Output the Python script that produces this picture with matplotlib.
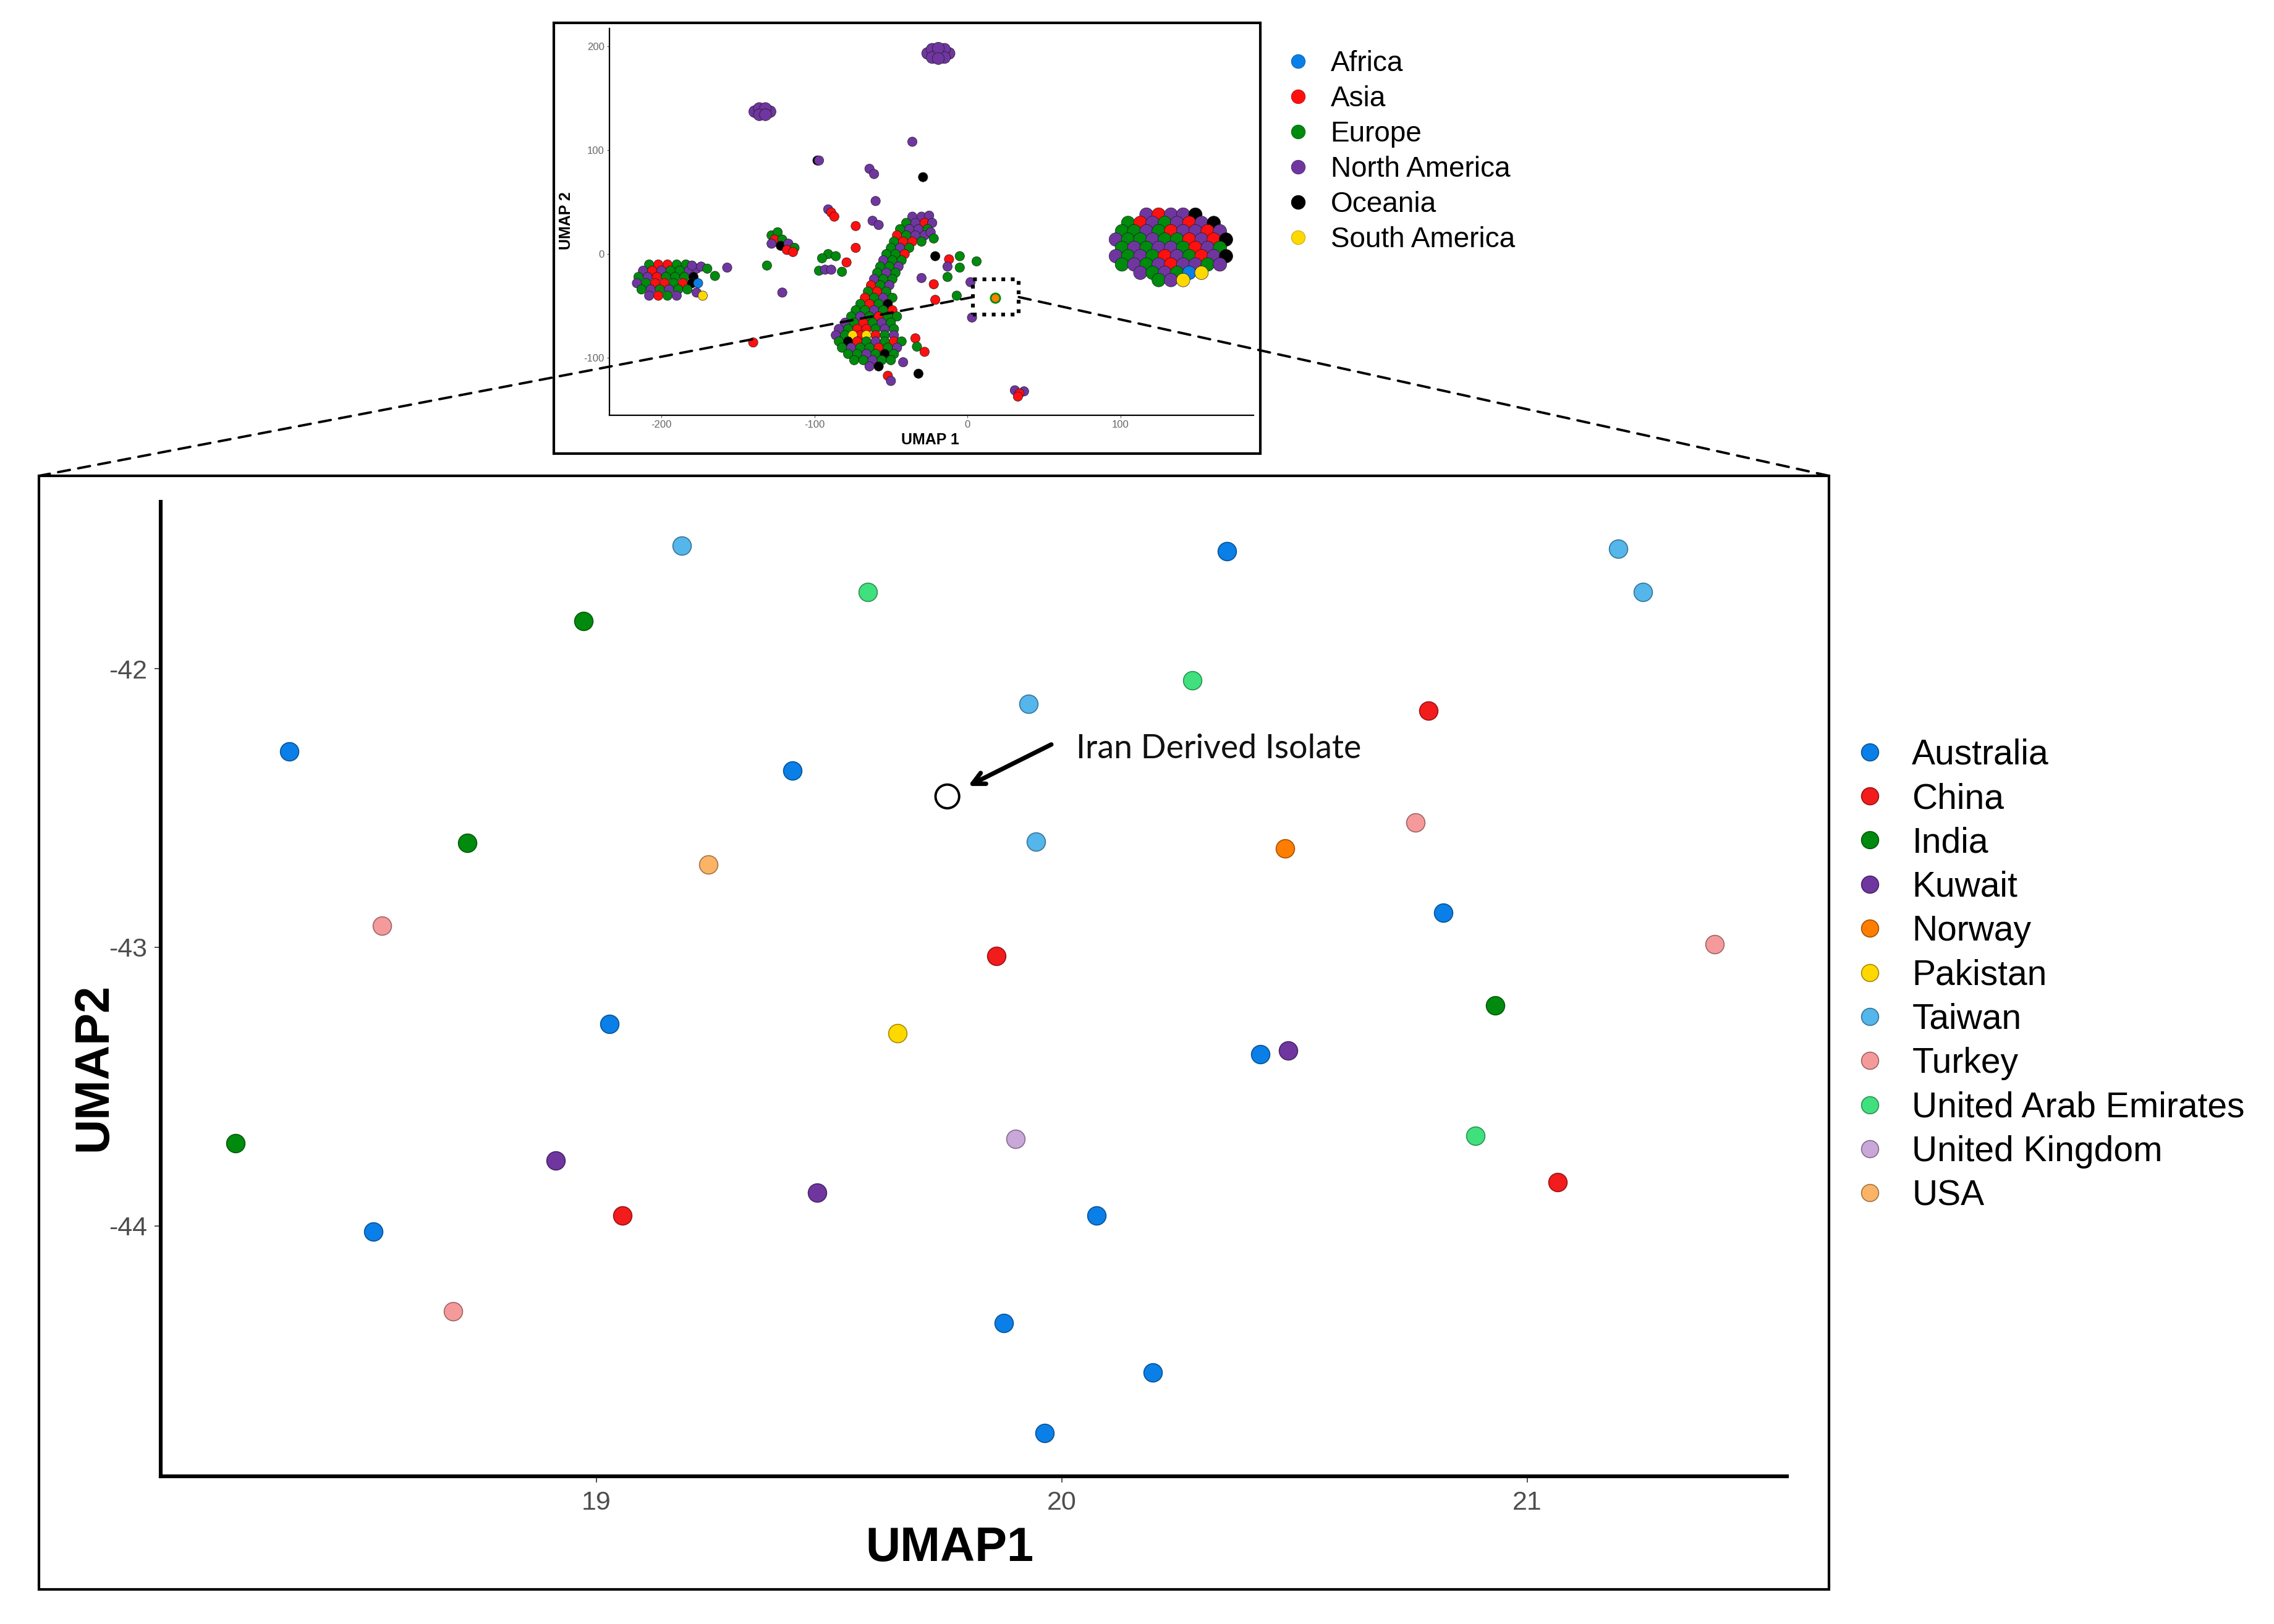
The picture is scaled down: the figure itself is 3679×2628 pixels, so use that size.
import matplotlib
matplotlib.use("Agg")
import matplotlib.pyplot as plt
import matplotlib.colors as mcolors
from matplotlib import font_manager
from matplotlib.lines import Line2D
from matplotlib.patches import Rectangle, ConnectionPatch


def has_font(name):
    try:
        font_manager.findfont(font_manager.FontProperties(family=name), fallback_to_default=False)
        return True
    except ValueError:
        return False


SANS = "Liberation Sans" if has_font("Liberation Sans") else "DejaVu Sans"
NARROW = "Liberation Sans Narrow" if has_font("Liberation Sans Narrow") else SANS
NOTE = "Lato" if has_font("Lato") else "DejaVu Sans"

plt.rcParams["font.family"] = [SANS, "DejaVu Sans"]
plt.rcParams["axes.unicode_minus"] = False

# ---- zoomed panel: isolates by country ----
countries = ["Australia", "China", "India", "Kuwait", "Norway", "Pakistan", "Taiwan",
             "Turkey", "United Arab Emirates", "United Kingdom", "USA"]
country_colors = ["#0a7fe8", "#f21c1c", "#008a0e", "#7036a0", "#ff7d00", "#ffd800",
                  "#54b6ea", "#f59a9b", "#40e07e", "#c9a7d9", "#fbb466"]

point_country = (["Australia"] * 11 + ["China"] * 4 + ["India"] * 4 + ["Kuwait"] * 3
                 + ["Norway", "Pakistan"] + ["Taiwan"] * 5 + ["Turkey"] * 4
                 + ["United Arab Emirates"] * 3 + ["United Kingdom", "USA"])
point_umap1 = [18.340, 19.421, 20.355, 20.819, 19.028, 20.427, 20.075, 18.520, 19.875, 20.196, 19.963,
               20.788, 19.860, 19.056, 21.065,
               18.972, 18.723, 20.931, 18.224,
               20.486, 18.913, 19.474,
               20.480, 19.647,
               19.184, 21.196, 21.249, 19.928, 19.944,
               20.760, 18.539, 21.402, 18.692,
               19.583, 20.280, 20.888,
               19.900, 19.240]
point_umap2 = [-42.297, -42.365, -41.578, -42.875, -43.276, -43.385, -43.964, -44.021, -44.349, -44.526, -44.745,
               -42.151, -43.031, -43.964, -43.844,
               -41.828, -42.625, -43.208, -43.703,
               -43.370, -43.766, -43.880,
               -42.646, -43.308,
               -41.557, -41.568, -41.724, -42.125, -42.620,
               -42.552, -42.922, -42.990, -44.307,
               -41.724, -42.042, -43.677,
               -43.688, -42.703]
iran_umap1, iran_umap2 = 19.754, -42.458

# ---- overview panel: isolates by continent ----
regions = ["Africa", "Asia", "Europe", "North America", "Oceania", "South America"]
region_codes = ["AF", "AS", "EU", "NA", "OC", "SA"]
region_colors = ["#0a7fe8", "#ff1010", "#008a0e", "#7036a0", "#000000", "#ffd800"]

big_disc = [
    (117, 38, "NA"), (125, 38, "AS"), (133, 38, "NA"), (141, 38, "NA"), (149, 38, "OC"),
    (105, 30, "EU"), (113, 30, "AS"), (121, 30, "NA"), (129, 30, "EU"), (137, 30, "NA"), (145, 30, "AS"),
    (153, 30, "NA"), (161, 30, "OC"),
    (101, 22, "EU"), (109, 22, "EU"), (117, 22, "NA"), (125, 22, "EU"), (133, 22, "AS"), (141, 22, "NA"),
    (149, 22, "NA"), (157, 22, "AS"), (165, 22, "NA"),
    (97, 14, "NA"), (105, 14, "EU"), (113, 14, "EU"), (121, 14, "NA"), (129, 14, "EU"), (137, 14, "EU"),
    (145, 14, "AS"), (153, 14, "NA"), (161, 14, "AS"), (169, 14, "OC"),
    (101, 6, "EU"), (109, 6, "NA"), (117, 6, "EU"), (125, 6, "NA"), (133, 6, "NA"), (141, 6, "EU"),
    (149, 6, "AS"), (157, 6, "NA"), (165, 6, "EU"),
    (97, -2, "NA"), (105, -2, "EU"), (113, -2, "NA"), (121, -2, "EU"), (129, -2, "AS"), (137, -2, "NA"),
    (145, -2, "EU"), (153, -2, "AS"), (161, -2, "NA"), (169, -2, "OC"),
    (101, -10, "EU"), (109, -10, "NA"), (117, -10, "EU"), (125, -10, "NA"), (133, -10, "AS"), (141, -10, "NA"),
    (149, -10, "NA"), (157, -10, "EU"), (165, -10, "NA"),
    (113, -18, "NA"), (121, -18, "EU"), (129, -18, "NA"), (137, -18, "EU"), (145, -18, "AF"), (153, -18, "SA"),
    (125, -25, "EU"), (133, -25, "NA"), (141, -25, "SA"),
]

main_band = [
    (-36, 36, "NA"), (-30, 36, "NA"), (-25, 37, "NA"),
    (-40, 30, "EU"), (-34, 30, "NA"), (-28, 30, "AS"), (-23, 30, "NA"),
    (-44, 24, "EU"), (-38, 24, "NA"), (-32, 24, "NA"), (-26, 24, "EU"),
    (-46, 18, "AS"), (-40, 18, "EU"), (-34, 18, "NA"), (-28, 18, "NA"),
    (-48, 12, "EU"), (-42, 12, "AS"), (-36, 12, "AS"), (-30, 12, "EU"),
    (-50, 6, "EU"), (-44, 6, "NA"), (-38, 6, "EU"),
    (-53, 0, "EU"), (-47, 0, "EU"), (-41, 0, "AS"),
    (-55, -6, "NA"), (-49, -6, "EU"), (-43, -6, "EU"),
    (-57, -12, "EU"), (-51, -12, "EU"), (-45, -12, "NA"),
    (-59, -18, "EU"), (-53, -18, "NA"), (-47, -18, "EU"),
    (-61, -24, "NA"), (-55, -24, "EU"), (-49, -24, "EU"),
    (-63, -30, "AS"), (-57, -30, "EU"), (-51, -30, "NA"),
    (-65, -36, "EU"), (-59, -36, "AS"), (-53, -36, "EU"),
    (-67, -42, "AS"), (-61, -42, "EU"), (-55, -42, "NA"), (-49, -42, "EU"),
    (-70, -48, "EU"), (-64, -48, "AS"), (-58, -48, "EU"), (-52, -48, "OC"),
    (-73, -54, "EU"), (-67, -54, "EU"), (-61, -54, "NA"), (-55, -54, "EU"), (-49, -54, "AS"),
    (-76, -60, "EU"), (-70, -60, "NA"), (-64, -60, "EU"), (-58, -60, "AS"), (-52, -60, "EU"), (-46, -60, "EU"),
    (-80, -66, "NA"), (-74, -66, "EU"), (-68, -66, "AS"), (-62, -66, "EU"), (-56, -66, "NA"), (-50, -66, "EU"),
    (-84, -72, "NA"), (-78, -72, "EU"), (-72, -72, "AS"), (-66, -72, "AS"), (-60, -72, "EU"), (-54, -72, "NA"),
    (-48, -72, "EU"),
    (-86, -78, "NA"), (-80, -78, "EU"), (-70, -78, "AS"), (-60, -78, "AS"), (-54, -78, "EU"), (-48, -78, "NA"),
    (-75, -78, "SA"), (-66, -78, "SA"),
    (-84, -84, "EU"), (-78, -84, "OC"), (-72, -84, "AS"), (-66, -84, "EU"), (-60, -84, "NA"), (-54, -84, "EU"),
    (-48, -84, "AS"), (-43, -84, "EU"),
    (-82, -90, "EU"), (-76, -90, "NA"), (-70, -90, "EU"), (-64, -90, "EU"), (-58, -90, "AS"), (-52, -90, "EU"),
    (-46, -90, "NA"),
    (-78, -96, "EU"), (-72, -96, "EU"), (-66, -96, "NA"), (-60, -96, "EU"), (-54, -96, "OC"), (-48, -96, "EU"),
    (-74, -102, "EU"), (-68, -102, "EU"), (-62, -102, "NA"), (-56, -102, "EU"), (-50, -102, "EU"),
    (-64, -108, "NA"), (-58, -108, "OC"),
]

left_cluster = [
    (-208, -10, "EU"), (-202, -10, "AS"), (-196, -10, "AS"), (-190, -10, "EU"), (-184, -10, "EU"),
    (-212, -16, "NA"), (-206, -16, "AS"), (-200, -16, "NA"), (-194, -16, "EU"), (-188, -16, "EU"),
    (-182, -16, "NA"), (-177, -14, "NA"),
    (-215, -22, "EU"), (-209, -22, "NA"), (-203, -22, "AS"), (-197, -22, "EU"), (-191, -22, "EU"),
    (-185, -22, "EU"), (-179, -22, "OC"),
    (-216, -28, "NA"), (-210, -28, "EU"), (-204, -28, "AS"), (-198, -28, "AS"), (-192, -28, "EU"),
    (-186, -28, "AS"), (-180, -28, "OC"), (-176, -28, "AF"),
    (-213, -34, "EU"), (-207, -34, "NA"), (-201, -34, "EU"), (-195, -34, "NA"), (-189, -34, "EU"),
    (-183, -34, "EU"),
    (-208, -40, "NA"), (-202, -40, "AS"), (-196, -40, "EU"), (-190, -40, "NA"),
    (-180, -11, "NA"), (-174, -12, "NA"), (-177, -37, "NA"), (-173, -40, "SA"),
]

mid_cluster = [
    (-128, 18, "EU"), (-124, 21, "EU"), (-126, 14, "AS"), (-121, 14, "EU"), (-128, 10, "NA"),
    (-122, 8, "OC"), (-117, 10, "NA"), (-113, 6, "EU"), (-118, 4, "AS"), (-114, 2, "AS"),
]

purple_blobs = [
    (-19, 193, "NA"), (-26, 193, "NA"), (-12, 193, "NA"), (-23, 197, "NA"), (-15, 197, "NA"),
    (-23, 189, "NA"), (-15, 189, "NA"), (-19, 198, "NA"), (-19, 188, "NA"),
    (-134, 137, "NA"), (-139, 137, "NA"), (-129, 137, "NA"), (-136, 140, "NA"), (-132, 140, "NA"),
    (-136, 134, "NA"), (-132, 134, "NA"),
]

scattered = [
    (-170, -14, "EU"), (-165, -21, "EU"), (-157, -13, "NA"), (-131, -11, "EU"), (-121, -37, "NA"),
    (-140, -85, "AS"), (-91, 43, "NA"), (-89, 40, "AS"), (-87, 36, "AS"), (-73, 27, "AS"),
    (-62, 32, "NA"), (-58, 28, "NA"), (-60, 51, "NA"), (-98, 90, "OC"), (-97, 90, "NA"),
    (-64, 82, "NA"), (-61, 77, "NA"), (-36, 108, "NA"), (-29, 74, "OC"),
    (-73, 6, "AS"), (-91, 0, "EU"), (-86, -2, "EU"), (-95, -4, "EU"), (-79, -8, "AS"),
    (-97, -16, "EU"), (-93, -15, "NA"), (-89, -15, "NA"), (-82, -17, "EU"),
    (-24, 21, "NA"), (-22, 15, "EU"), (-21, -2, "OC"), (-12, -5, "AS"), (-5, -2, "EU"), (6, -7, "EU"),
    (-13, -12, "NA"), (-5, -13, "EU"), (-13, -22, "EU"), (-30, -23, "NA"), (-22, -29, "AS"),
    (2, -27, "NA"), (-21, -44, "AS"), (-7, -40, "EU"), (3, -61, "NA"),
    (-34, -81, "AS"), (-33, -89, "EU"), (-28, -94, "AS"), (-42, -104, "NA"), (-32, -115, "OC"),
    (-52, -117, "AS"), (-50, -122, "NA"),
    (31, -131, "NA"), (37, -132, "NA"), (34, -134, "AS"), (33, -137, "AS"),
]
focus_point = (18, -42)
zoom_box = (3.6, -58.3, 33.6, -24.4)  # x0, y0, x1, y1 of the dotted window


def darker(color, f=0.65):
    r, g, b = mcolors.to_rgb(color)
    return (r * f, g * f, b * f)


fig = plt.figure(figsize=(18.4, 13.14), dpi=200)

# ---------------- main zoomed scatter ----------------
ax = fig.add_axes([0.0707, 0.0909, 0.7149, 0.6001])
for name, col in zip(countries, country_colors):
    xs = [x for x, c in zip(point_umap1, point_country) if c == name]
    ys = [y for y, c in zip(point_umap2, point_country) if c == name]
    ax.scatter(xs, ys, s=115, color=col, edgecolors=[darker(col)], linewidths=0.6, zorder=3)
ax.scatter([iran_umap1], [iran_umap2], s=190, facecolors="none", edgecolors="black",
           linewidths=1.4, zorder=4)
ax.annotate("", xy=(19.792, -42.426), xytext=(19.984, -42.266),
            arrowprops=dict(arrowstyle="->,head_length=0.7,head_width=0.35", lw=2.6, color="black"))
ax.text(20.031, -42.286, "Iran Derived Isolate", fontsize=19.3, family=[NOTE, "DejaVu Sans"],
        ha="left", va="center", color="#111111")

ax.set_xlim(18.064, 21.558)
ax.set_ylim(-44.90, -41.40)
ax.set_xticks([19, 20, 21])
ax.set_yticks([-44, -43, -42])
for side in ("top", "right"):
    ax.spines[side].set_visible(False)
for side in ("left", "bottom"):
    ax.spines[side].set_linewidth(2.2)
    ax.spines[side].set_color("black")
ax.tick_params(length=3.6, width=0.6, color="#333333", labelsize=15.5, labelcolor="#4d4d4d", pad=4.5)
ax.set_xlabel("UMAP1", fontsize=28, fontweight="bold", family=[NARROW, "DejaVu Sans"], va="center")
ax.set_ylabel("UMAP2", fontsize=28, fontweight="bold", family=[NARROW, "DejaVu Sans"], va="center")
ax.xaxis.set_label_coords(0.485, -0.074)
ax.yaxis.set_label_coords(-0.041, 0.42)

handles = [Line2D([], [], marker="o", linestyle="None", markersize=10, markerfacecolor=c,
                  markeredgecolor=darker(c), markeredgewidth=0.6) for c in country_colors]
fig.legend(handles, countries, loc="upper left", bbox_to_anchor=(0.8158, 0.5454), frameon=False,
           fontsize=20.5, handlelength=0.8, handletextpad=0.8, labelspacing=0.305, borderpad=0,
           borderaxespad=0)

# ---------------- overview inset ----------------
axi = fig.add_axes([0.2679, 0.7443, 0.2832, 0.2382])
code_color = dict(zip(region_codes, region_colors))
for group, size in ((big_disc, 62), (purple_blobs, 48),
                    (left_cluster + mid_cluster + main_band + scattered, 30)):
    axi.scatter([p[0] for p in group], [p[1] for p in group], s=size,
                c=[code_color[p[2]] for p in group], edgecolors="#1a1a1a", linewidths=0.25, zorder=3)
axi.scatter([focus_point[0]], [focus_point[1]], s=30, color="#ff8000", edgecolors="#008a0e",
            linewidths=1.0, zorder=4)
bx0, by0, bx1, by1 = zoom_box
axi.add_patch(Rectangle((bx0, by0), bx1 - bx0, by1 - by0, fill=False, ec="black", lw=2.2,
                        ls=(0, (1, 1.5)), zorder=5))
axi.set_xlim(-234, 187)
axi.set_ylim(-155, 217)
axi.set_xticks([-200, -100, 0, 100])
axi.set_yticks([-100, 0, 100, 200])
for side in ("top", "right"):
    axi.spines[side].set_visible(False)
for side in ("left", "bottom"):
    axi.spines[side].set_linewidth(0.8)
axi.tick_params(length=1.5, width=0.4, color="#555555", labelsize=6, labelcolor="#666666", pad=1.5)
axi.set_xlabel("UMAP 1", fontsize=9, fontweight="bold", va="center")
axi.set_ylabel("UMAP 2", fontsize=9, fontweight="bold", va="center")
axi.xaxis.set_label_coords(0.498, -0.064)
axi.yaxis.set_label_coords(-0.067, 0.503)

rhandles = [Line2D([], [], marker="o", linestyle="None", markersize=8, markerfacecolor=c,
                   markeredgecolor=darker(c, 0.8), markeredgewidth=0.4) for c in region_colors]
fig.legend(rhandles, regions, loc="upper left", bbox_to_anchor=(0.5658, 0.969), frameon=False,
           fontsize=16.5, handlelength=0.8, handletextpad=0.74, labelspacing=0.28, borderpad=0,
           borderaxespad=0)

# ---------------- frames and connectors ----------------
fig.add_artist(Rectangle((0.0171, 0.0213), 0.787, 0.6857, transform=fig.transFigure,
                         fill=False, ec="black", lw=1.5))
fig.add_artist(Rectangle((0.2435, 0.7207), 0.3106, 0.2652, transform=fig.transFigure,
                         fill=False, ec="black", lw=1.5))
box_mid = (by0 + by1) / 2
for xa, xb in ((bx0, 0.0171), (bx1, 0.8041)):
    con = ConnectionPatch(xyA=(xa, box_mid), coordsA=axi.transData, xyB=(xb, 0.707),
                          coordsB=fig.transFigure, color="black", lw=1.4, ls=(0, (5, 3.5)))
    fig.add_artist(con)

fig.savefig("out.png", dpi=200, facecolor="white")
